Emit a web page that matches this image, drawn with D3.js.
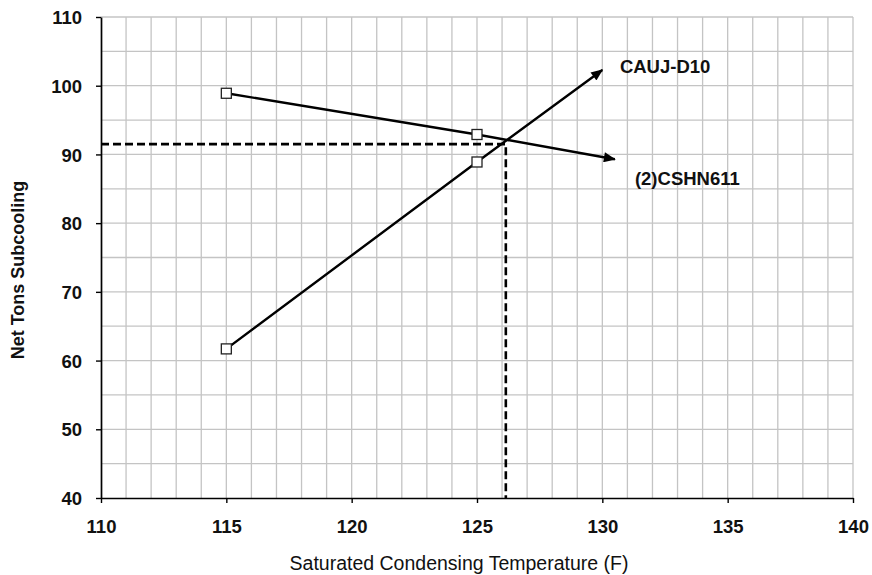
<!DOCTYPE html>
<html>
<head>
<meta charset="utf-8">
<script src="https://cdn.jsdelivr.net/npm/d3@7"></script>
<style>
  body { margin: 0; background: #fff; }
  text { font-family: "Liberation Sans", Arial, sans-serif; fill: #111; }
  .tick-label { font-size: 18.5px; font-weight: bold; }
  .axis-title { font-size: 19.5px; }
  .axis-title.y { font-size: 18px; font-weight: bold; }
  .series-label { font-size: 18.5px; font-weight: bold; }
</style>
</head>
<body>
<svg class="chart"></svg>
<script>
// values
const xTicks = [110, 115, 120, 125, 130, 135, 140]
const yTicks = [40, 50, 60, 70, 80, 90, 100, 110]
const caujX = [115, 125, 130.0]
const caujY = [61.7, 88.9, 102.3]
const cshnX = [115, 125, 130.5]
const cshnY = [98.9, 92.9, 89.3]
const seriesNames = ["CAUJ-D10", "(2)CSHN611"]
const refPoint = [126.15, 91.5]

var margin = {top: 17, right: 19, bottom: 77, left: 101}
  , width = 872 - margin.left - margin.right
  , height = 575 - margin.top - margin.bottom;

var xScale = d3.scaleLinear().domain([110, 140]).range([0, width])
var yScale = d3.scaleLinear().domain([40, 110]).range([height, 0])

var svg = d3.select(".chart")
    .attr("width", 872)
    .attr("height", 575)

var defs = svg.append("defs")
defs.append("marker")
    .attr("id", "arrow")
    .attr("viewBox", "0 0 12 10")
    .attr("refX", 11)
    .attr("refY", 5)
    .attr("markerWidth", 13)
    .attr("markerHeight", 10)
    .attr("markerUnits", "userSpaceOnUse")
    .attr("orient", "auto")
    .append("path")
    .attr("d", "M0,0 L12,5 L0,10 Z")
    .attr("fill", "#000")

var graph = svg.append("g")
    .attr("transform", "translate(" + margin.left + "," + margin.top + ")")

// grid: every 1 on x, every 5 on y
graph.append("g")
    .selectAll("line")
    .data(d3.range(111, 141, 1))
    .join("line")
    .attr("x1", d => xScale(d)).attr("x2", d => xScale(d))
    .attr("y1", 0).attr("y2", height)
    .attr("stroke", "#c4c4c4").attr("stroke-width", 1.3)

graph.append("g")
    .selectAll("line")
    .data(d3.range(45, 111, 5))
    .join("line")
    .attr("x1", 0).attr("x2", width)
    .attr("y1", d => yScale(d)).attr("y2", d => yScale(d))
    .attr("stroke", "#c4c4c4").attr("stroke-width", 1.3)

// axes
var xAxis = graph.append("g")
    .attr("transform", "translate(0," + height + ")")
    .call(d3.axisBottom(xScale).tickValues(xTicks).tickSize(5).tickSizeOuter(0).tickPadding(17))
var yAxis = graph.append("g")
    .call(d3.axisLeft(yScale).tickValues(yTicks).tickSize(5).tickSizeOuter(0).tickPadding(14))

;[xAxis, yAxis].forEach(ax => {
    ax.select(".domain").attr("stroke", "#000").attr("stroke-width", 1.7)
    ax.selectAll(".tick line").attr("stroke", "#000").attr("stroke-width", 1.4)
    ax.selectAll(".tick text").attr("class", "tick-label").attr("font-size", null).attr("font-family", null).attr("fill", "#111")
})
xAxis.selectAll(".tick text").attr("dy", "0.71em")
yAxis.selectAll(".tick text").attr("dy", "0.36em")

svg.append("text")
    .attr("class", "axis-title")
    .attr("text-anchor", "middle")
    .attr("x", 459)
    .attr("y", 570)
    .text("Saturated Condensing Temperature (F)")

svg.append("text")
    .attr("class", "axis-title y")
    .attr("text-anchor", "middle")
    .attr("transform", "translate(24, 270) rotate(-90)")
    .text("Net Tons Subcooling")

// dashed reference lines
graph.append("path")
    .attr("d", d3.line()([
        [xScale(110), yScale(refPoint[1])],
        [xScale(refPoint[0]), yScale(refPoint[1])],
        [xScale(refPoint[0]), yScale(40)]
    ]))
    .attr("fill", "none")
    .attr("stroke", "#000")
    .attr("stroke-width", 2.6)
    .attr("stroke-dasharray", "8,4")

const line = d3.line()
    .x(d => xScale(d[0]))
    .y(d => yScale(d[1]))

const dataArray = [
    d3.zip(caujX, caujY),
    d3.zip(cshnX, cshnY)
]

dataArray.forEach(dataset => {
    graph.append("path")
        .datum(dataset)
        .attr("d", line)
        .attr("fill", "none")
        .attr("stroke", "#000")
        .attr("stroke-width", 2.4)
        .attr("marker-end", "url(#arrow)")

    graph.append("g")
        .selectAll("rect")
        .data(dataset.slice(0, 2))
        .join("rect")
        .attr("x", d => xScale(d[0]) - 5)
        .attr("y", d => yScale(d[1]) - 5)
        .attr("width", 10)
        .attr("height", 10)
        .attr("fill", "#fff")
        .attr("stroke", "#222")
        .attr("stroke-width", 1.3)
})

// series labels next to the arrow heads
graph.append("text")
    .attr("class", "series-label")
    .attr("x", xScale(130.7))
    .attr("y", yScale(101.8))
    .text(seriesNames[0])

graph.append("text")
    .attr("class", "series-label")
    .attr("x", xScale(131.3))
    .attr("y", yScale(85.6))
    .text(seriesNames[1])
</script>
</body>
</html>
